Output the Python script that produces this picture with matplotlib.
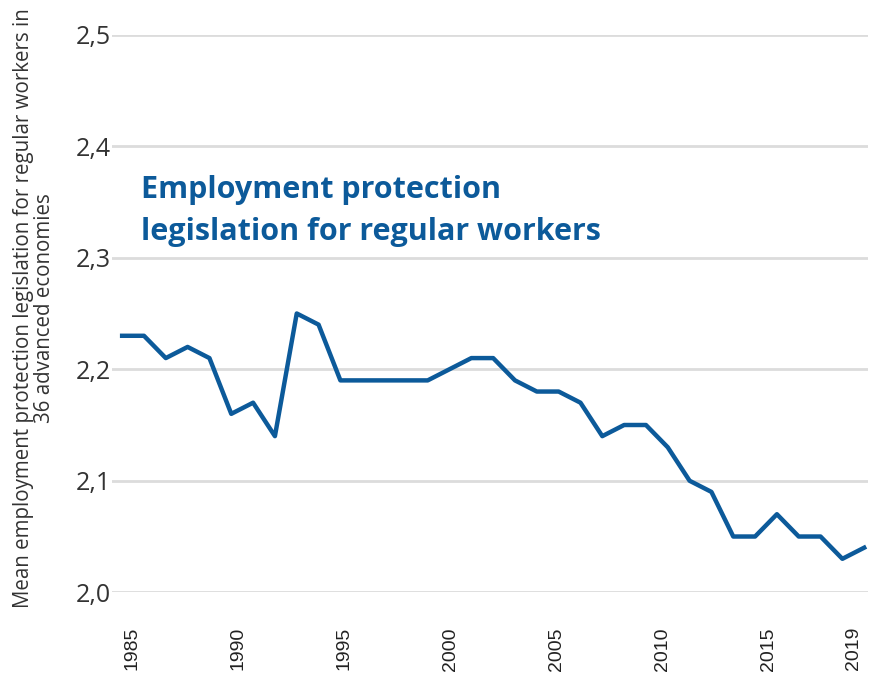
import matplotlib.pyplot as plt
from matplotlib.transforms import ScaledTranslation

# values
years = list(range(1985, 2020))
epl = [2.23, 2.23, 2.21, 2.22, 2.21, 2.16, 2.17, 2.14, 2.25, 2.24,
       2.19, 2.19, 2.19, 2.19, 2.19, 2.20, 2.21, 2.21, 2.19, 2.18,
       2.18, 2.17, 2.14, 2.15, 2.15, 2.13, 2.10, 2.09, 2.05, 2.05,
       2.07, 2.05, 2.05, 2.03, 2.04]
xticks = [1985, 1990, 1995, 2000, 2005, 2010, 2015, 2019]
yticks = [2.0, 2.1, 2.2, 2.3, 2.4, 2.5]
ylabels = ["2,0", "2,1", "2,2", "2,3", "2,4", "2,5"]

blue = "#0c5a9a"

fig = plt.figure(figsize=(8.69, 6.8), dpi=100)
ax = fig.add_axes([0.129, 0.129, 0.870, 0.820])

ax.plot(years, epl, color=blue, lw=3.2, solid_joinstyle="round", zorder=3)

ax.set_xlim(1984.54, 2019.18)
ax.set_ylim(2.0, 2.5)
ax.set_yticks(yticks)
ax.set_yticklabels(ylabels, family="Open Sans", fontsize=18, color="#333333")
ax.set_xticks(xticks)
ax.set_xticklabels([str(y) for y in xticks], rotation=90,
                   family="Liberation Sans", fontsize=14, color="#222222")
ax.tick_params(axis="x", length=0, pad=25)
ax.tick_params(axis="y", length=0, pad=1)

# the year labels sit a little inside the ends of the line in the original
for lab, yr in zip(ax.get_xticklabels(), xticks):
    dx = (10 - 21 * (yr - 1985) / 34) / 100
    lab.set_transform(lab.get_transform() + ScaledTranslation(dx, 0, fig.dpi_scale_trans))

ax.grid(axis="y", color="#dcdcdc", lw=2)
ax.set_axisbelow(True)
for s in ax.spines.values():
    s.set_visible(False)

ax.set_ylabel("Mean employment protection legislation for regular workers in\n36 advanced economies",
              family="Open Sans", fontsize=14.8, color="#333333",
              linespacing=0.95)
ax.yaxis.set_label_coords(-0.076, 0.51)

ax.text(1985.85, 2.342, "Employment protection\nlegislation for regular workers",
        family="Open Sans", fontweight="bold", fontsize=22, color=blue,
        va="center", ha="left", linespacing=1.5)

fig.savefig("out.png", dpi=100)
